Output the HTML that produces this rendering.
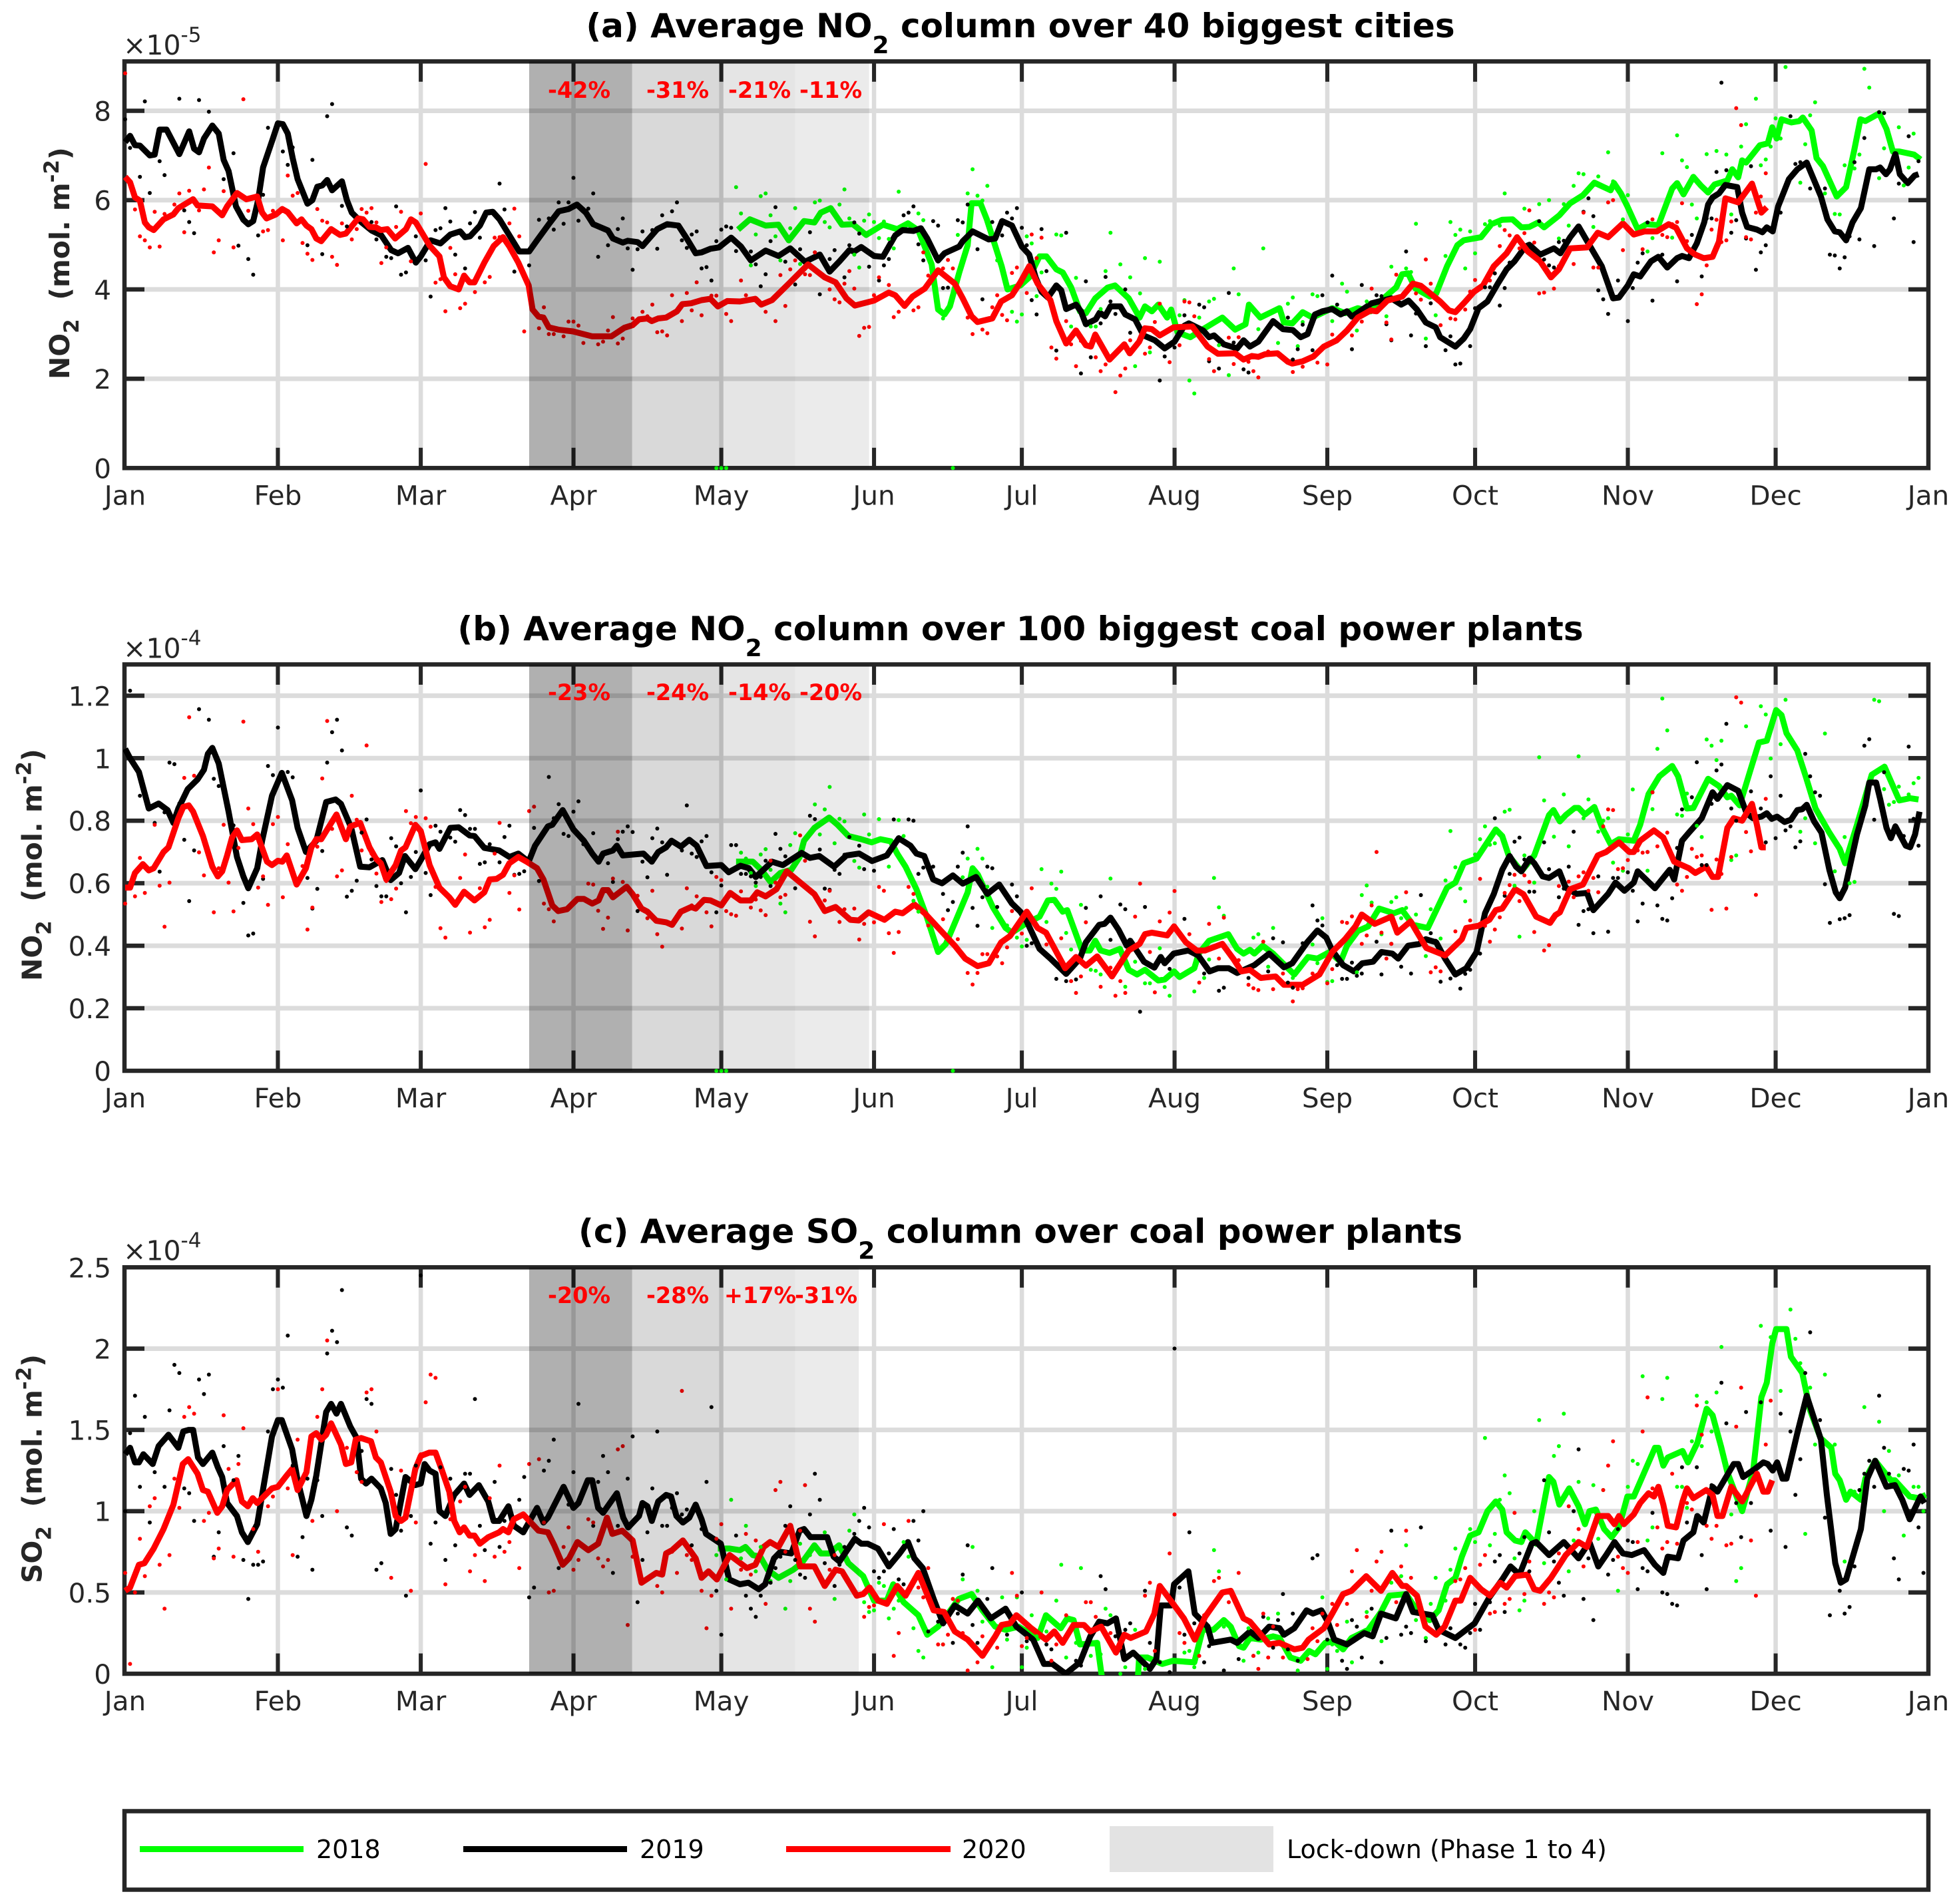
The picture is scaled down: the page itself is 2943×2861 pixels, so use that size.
<!DOCTYPE html>
<html lang="en">
<head>
<meta charset="utf-8">
<title>Average NO2 and SO2 columns</title>
<style>
html,body{margin:0;padding:0;background:#fff;}
svg{display:block;}
text{font-family:"DejaVu Sans","Liberation Sans",sans-serif;white-space:pre;}
.title{font-size:50px;font-weight:bold;fill:#000;text-anchor:middle;}
.ylab{font-size:41px;font-weight:bold;fill:#262626;}
.exp{font-size:41px;fill:#262626;}
.pct{font-size:33.5px;font-weight:bold;fill:#f00;text-anchor:middle;}
.leg{font-size:38px;fill:#000;}
</style>
</head>
<body>
<svg xmlns="http://www.w3.org/2000/svg" width="2943" height="2861" viewBox="0 0 2943 2861">
<defs>
<clipPath id="clip-a"><rect x="185" y="89" width="2715" height="616"/></clipPath>
<clipPath id="clip-b"><rect x="185" y="995" width="2715" height="616"/></clipPath>
<clipPath id="clip-c"><rect x="185" y="1901" width="2715" height="616"/></clipPath>
</defs>
<rect x="0" y="0" width="2943" height="2861" fill="#fff"/>

<g id="panel-a">
<g id="a-base"></g>
<g id="a-data" clip-path="url(#clip-a)"></g>
<g id="a-dots"></g>
<g id="a-shade"></g>
<text class="title" x="1533" y="56">(a) Average NO<tspan dy="24" font-size="36">2</tspan><tspan dy="-24"> column over 40 biggest cities</tspan></text>
<text class="ylab" transform="translate(104,570) rotate(-90)">NO<tspan dy="14" font-size="31">2</tspan><tspan dy="-14">  (mol. m</tspan><tspan dy="-16" font-size="31">-2</tspan><tspan dy="16">)</tspan></text>
<text class="exp" x="185" y="82">×10<tspan dy="-19" font-size="31">-5</tspan></text>
<text class="pct" x="870" y="147">-42%</text>
<text class="pct" x="1018" y="147">-31%</text>
<text class="pct" x="1141" y="147">-21%</text>
<text class="pct" x="1248" y="147">-11%</text>
</g>

<g id="panel-b">
<g id="b-base"></g>
<g id="b-data" clip-path="url(#clip-b)"></g>
<g id="b-dots"></g>
<g id="b-shade"></g>
<text class="title" x="1533" y="962">(b) Average NO<tspan dy="24" font-size="36">2</tspan><tspan dy="-24"> column over 100 biggest coal power plants</tspan></text>
<text class="ylab" transform="translate(62.5,1474) rotate(-90)">NO<tspan dy="14" font-size="31">2</tspan><tspan dy="-14">  (mol. m</tspan><tspan dy="-16" font-size="31">-2</tspan><tspan dy="16">)</tspan></text>
<text class="exp" x="185" y="988.7">×10<tspan dy="-19" font-size="31">-4</tspan></text>
<text class="pct" x="870" y="1052">-23%</text>
<text class="pct" x="1018" y="1052">-24%</text>
<text class="pct" x="1141" y="1052">-14%</text>
<text class="pct" x="1248" y="1052">-20%</text>
</g>

<g id="panel-c">
<g id="c-base"></g>
<g id="c-data" clip-path="url(#clip-c)"></g>
<g id="c-dots"></g>
<g id="c-shade"></g>
<text class="title" x="1533" y="1867.5">(c) Average SO<tspan dy="24" font-size="36">2</tspan><tspan dy="-24"> column over coal power plants</tspan></text>
<text class="ylab" transform="translate(62.5,2379) rotate(-90)">SO<tspan dy="14" font-size="31">2</tspan><tspan dy="-14">  (mol. m</tspan><tspan dy="-16" font-size="31">-2</tspan><tspan dy="16">)</tspan></text>
<text class="exp" x="185" y="1893.7">×10<tspan dy="-19" font-size="31">-4</tspan></text>
<text class="pct" x="870" y="1958">-20%</text>
<text class="pct" x="1018" y="1958">-28%</text>
<text class="pct" x="1142" y="1958">+17%</text>
<text class="pct" x="1241" y="1958">-31%</text>
</g>

<g id="legend">
<rect x="187" y="2721.5" width="2710" height="118" fill="#fff" stroke="#262626" stroke-width="6.5"/>
<rect x="210" y="2774" width="246" height="9" fill="#0f0"/>
<text class="leg" x="475" y="2792">2018</text>
<rect x="696" y="2774" width="246" height="9" fill="#000"/>
<text class="leg" x="961" y="2792">2019</text>
<rect x="1181" y="2774" width="247" height="9" fill="#f00"/>
<text class="leg" x="1445" y="2792">2020</text>
<rect x="1667" y="2744" width="246" height="69" fill="#e3e3e3"/>
<text class="leg" x="1933" y="2792">Lock-down (Phase 1 to 4)</text>
</g>
</svg>

<script>
// Axis categories and tick labels
const monthLabels = ['Jan','Feb','Mar','Apr','May','Jun','Jul','Aug','Sep','Oct','Nov','Dec','Jan'];
const monthStartDays = [0,31,60,91,121,152,182,213,244,274,305,335,366];
const aTickValues = [0,2,4,6,8];
const aTickLabels = ['0','2','4','6','8'];
const bTickValues = [0,0.2,0.4,0.6,0.8,1,1.2];
const bTickLabels = ['0','0.2','0.4','0.6','0.8','1','1.2'];
const cTickValues = [0,0.5,1,1.5,2,2.5];
const cTickLabels = ['0','0.5','1','1.5','2','2.5'];
const abPhaseDays = [82,102.9,121.4,136,151];
const cPhaseDays = [82,102.9,121.4,136,148.9];

// Series are flat lists: day-of-year, value, day-of-year, value, ...
// Panel a values are x 1e-5 mol/m2
const aLine2019 = [0,7.3,1,7.44,2,7.23,3,7.22,5,7.0,6,7.02,7,7.58,8.4,7.58,11,7.03,13,7.54,14,7.15,15,7.07,16,7.38,17.7,7.67,19,7.49,20,6.9,21,6.65,22.5,5.86,24,5.56,25,5.46,26,5.53,27,6.0,28,6.73,30,7.38,31,7.72,32,7.7,33,7.49,34,6.94,35,6.47,37,5.92,38,6.0,39,6.3,40,6.33,41,6.45,42,6.22,44,6.42,45,6.0,46,5.72,48,5.5,50,5.32,52,5.21,54,4.88,55.4,4.81,57.4,4.93,59,4.6,60,4.74,62,5.1,64,5.03,66,5.23,68,5.3,69,5.17,70,5.19,72,5.43,73.3,5.72,74.6,5.74,76,5.57,78,5.21,80,4.85,82,4.85,83.6,5.1,86,5.46,88,5.75,90,5.8,91.7,5.9,93.5,5.72,95,5.46,98,5.32,99,5.14,101,5.05,102,5.09,104,5.06,105,4.97,108,5.35,110,5.46,112.3,5.43,114,5.14,115.8,4.81,117,4.83,118.8,4.91,120.5,4.94,123,5.16,125,4.96,127,4.65,130,4.87,132.6,4.75,135,4.92,138,4.62,141,4.78,143,4.4,145,4.63,147,4.88,148,4.85,149.4,4.95,152,4.75,153.8,4.73,156.3,5.21,157.8,5.33,160,5.31,161.5,5.37,162.8,5.14,165,4.65,166.3,4.81,169.3,4.96,170,5.08,172,5.3,175.3,5.12,176.6,5.14,178,5.53,180,5.43,182,4.96,183.5,4.78,184.8,4.27,186,3.95,187.3,3.82,189,4.09,190,3.98,191,3.56,193,3.66,194,3.51,195,3.22,197,3.33,197.8,3.48,198.9,3.4,200,3.62,202,3.62,203,3.44,205,3.33,206.7,2.97,209,2.86,211,2.68,213,2.83,215,3.19,215.9,3.24,218.8,3.08,220,2.93,221,2.97,223,2.77,225.7,2.68,227,2.86,228.3,2.72,230,2.83,233,3.29,235,3.11,237,3.09,238.6,2.93,240,3.0,241.5,3.44,243,3.51,245,3.56,246.7,3.44,248,3.51,249,3.39,253,3.69,257,3.8,259,3.66,260.5,3.75,262.2,3.55,264,3.26,266,3.15,266.9,2.93,270,2.72,271.7,2.9,273,3.11,274.7,3.58,276.5,3.73,278.6,4.13,280.4,4.45,282,4.63,284.2,4.96,285,5.0,287.2,4.78,290,4.92,291.3,4.81,293.3,5.17,295,5.41,297,5.03,299.7,4.52,302,3.8,303.2,3.82,305,4.09,306.2,4.34,307.5,4.29,309.7,4.63,311.2,4.73,313,4.49,315,4.7,316,4.75,317.4,4.7,319,5.03,320.5,5.5,321.3,5.9,322.2,6.06,323.5,6.15,324.8,6.34,327.2,6.29,328.2,5.72,329.2,5.4,331.2,5.34,332.3,5.28,333.2,5.39,334.4,5.3,335.5,5.86,337.7,6.47,339.4,6.69,341.3,6.84,344.2,6.08,345.5,5.57,347,5.3,348,5.28,349.3,5.1,350.6,5.5,352.3,5.82,354,6.69,355.4,6.69,356.2,6.73,357.4,6.58,358.2,6.69,359.3,7.03,360.2,6.58,361.8,6.38,363.2,6.55,364,6.58];
const aLine2020 = [0,6.52,1,6.4,2,6.06,3,5.99,4,5.5,4.8,5.39,5.8,5.33,7.8,5.57,9.8,5.68,10.8,5.82,13.8,6.02,14.7,5.88,17.7,5.86,19.7,5.66,20.7,5.86,22.7,6.16,24.6,6.02,26.8,6.08,27.8,5.72,28.7,5.59,30.6,5.68,31.9,5.8,33,5.73,34.8,5.48,35.8,5.57,36.8,5.43,37.8,5.35,38.8,5.14,39.8,5.08,41.8,5.35,43.6,5.22,44.8,5.25,46.1,5.43,47.3,5.59,48.3,5.57,49.6,5.4,50.9,5.39,51.9,5.33,53.2,5.35,54.8,5.14,57,5.35,58,5.57,59,5.5,60.8,5.17,61.8,4.98,63.8,4.74,64.7,4.27,66,4.07,67.7,4.0,68.8,4.31,69.9,4.16,70.9,4.16,72.9,4.6,74.8,4.97,76.7,5.17,78,4.96,79.8,4.6,81.9,4.09,82.7,3.55,83.9,3.39,84.9,3.37,86,3.15,87.9,3.1,90.9,3.06,94.8,2.95,98.7,2.95,101.3,3.14,103,3.2,104.3,3.33,106,3.35,106.9,3.29,108.2,3.35,109.8,3.37,112,3.51,113.1,3.67,114.9,3.69,117,3.76,118.8,3.79,120.3,3.62,122.2,3.74,124.8,3.73,127.9,3.79,129.1,3.66,131.3,3.76,134.7,4.13,138.6,4.56,142,4.27,144.2,4.16,146.4,3.8,148.1,3.64,152,3.75,155,3.93,156.3,3.87,158.2,3.63,159.8,3.84,162.3,4.02,165,4.43,168.4,4.13,170,3.8,171.8,3.4,173,3.27,176,3.35,177.8,3.73,180,3.87,181.7,4.16,183.5,4.52,185.2,4.13,187.8,3.76,189,3.29,191,2.79,193,3.08,195,2.75,196,2.72,196.9,2.99,199.8,2.43,202.8,2.77,203.9,2.57,205.8,2.83,207,3.13,208.4,3.11,210,2.97,212.8,3.15,216.6,3.17,219.7,2.72,221.8,2.56,225.3,2.57,227,2.43,228.7,2.51,230,2.49,231.4,2.55,233.9,2.57,236,2.38,236.9,2.34,239,2.39,241.2,2.5,243.3,2.72,245.9,2.86,248,3.08,250.2,3.37,252.8,3.53,254,3.51,256.2,3.75,259.2,3.84,261.4,4.13,263,4.08,266.9,3.73,268.7,3.53,270,3.49,271.7,3.69,273.8,3.95,275.6,4.09,277.8,4.52,280.4,4.81,282.5,5.17,284.7,4.85,287.2,4.63,289.4,4.27,291,4.45,293.3,4.92,296.7,4.94,298.9,5.27,301,5.17,304,5.48,306.2,5.23,308.4,5.3,310.9,5.3,313.3,5.46,314.8,5.38,317,4.92,318.7,4.78,320.4,4.7,322.2,4.73,323.5,5.07,324.8,6.04,327.4,5.95,330.2,6.37,332.1,5.72,333.2,5.84];
const aLine2018 = [124.4,5.34,126.8,5.57,130,5.43,132.6,5.45,134.7,5.1,137.8,5.53,139.9,5.5,141.2,5.72,143.2,5.82,145.5,5.45,147.7,5.46,150.4,5.22,153.8,5.45,156.7,5.35,158.9,5.48,161,5.32,163.7,4.56,165,3.55,166.3,3.44,167.4,3.62,169.3,4.38,171,4.99,171.8,5.93,173.6,5.93,174.9,5.57,177.9,4.52,179.1,4.0,181.7,4.09,183.5,4.27,185.6,4.74,187,4.74,189,4.45,190.3,4.38,192,4.05,193.8,3.51,195,3.47,196.9,3.8,199.4,4.04,200.9,4.09,203.7,3.8,205.9,3.37,207,3.62,208.4,3.51,209.7,3.66,211.5,3.37,212.3,3.55,213.6,3.04,216.2,2.93,218.8,3.11,222.7,3.37,225.3,3.1,227.4,3.22,228.1,3.66,230.4,3.37,234.3,3.58,235.2,3.26,236.9,3.24,239,3.49,241,3.37,245,3.58,247.6,3.47,250.2,3.58,252.8,3.51,255,3.76,258,4.05,259.2,4.34,260.4,4.36,261.9,4.02,264.8,3.84,266.1,3.91,268.3,4.52,270.4,4.99,271.7,5.1,275.2,5.17,277.3,5.46,279.5,5.56,281.6,5.57,283.4,5.39,285,5.4,286.8,5.5,288,5.39,291.1,5.66,293.3,5.93,295.9,6.11,298.2,6.39,301.5,6.22,302.2,6.38,303.6,6.15,304.9,5.86,307,5.35,308.8,5.46,311.2,5.44,314,6.26,315,6.38,316.3,6.13,318.3,6.52,319.8,6.33,321.3,6.17,322.6,6.35,325.2,6.44,326.2,6.69,327.4,6.51,328.2,6.89,329,6.84,331.8,7.23,333.4,7.27,334.3,7.63,335.2,7.38,336.2,7.81,338.2,7.74,339.8,7.77,340.5,7.85,342.3,7.56,343.3,6.94,344.6,6.76,347.4,6.08,349.3,6.29,350.9,7.09,352.2,7.81,353.2,7.77,356,7.94,357.5,7.59,358.8,7.09,360.1,7.09,363.1,7.02,364.4,6.91];

// Panel b values are x 1e-4 mol/m2
const bLine2019 = [0,1.03,1,1.0,2.8,.956,4.8,.839,6.8,.855,8.6,.834,9.8,.793,10.8,.839,12.7,.901,14.7,.932,16,.963,16.8,1.014,17.7,1.033,19,.983,21,.829,22.7,.684,24,.622,25,.584,26.8,.648,27.8,.736,29.8,.88,31.8,.953,33.9,.865,35,.777,36.7,.7,38.8,.736,40.8,.86,42.7,.868,43.8,.854,45.9,.777,47.7,.653,49.6,.651,52.2,.674,53.9,.61,55.6,.633,56.8,.687,58.9,.645,60,.674,61.8,.725,63,.731,63.8,.71,66,.777,67.7,.779,69.9,.753,70.9,.751,72.9,.713,75.9,.705,78,.684,79.8,.695,81.9,.669,83.2,.72,85.8,.782,86.7,.787,88.8,.834,91,.772,93.1,.736,94.8,.695,96.1,.669,97,.695,99,.705,99.8,.72,101,.689,105.2,.695,106.9,.669,108.2,.7,109.8,.715,110.9,.736,112.8,.717,114.5,.739,116,.72,118,.655,121,.658,122.5,.635,124.9,.656,126.6,.648,128,.62,131.3,.669,133.5,.658,137.3,.697,139,.681,140.9,.687,143.9,.653,146.4,.689,149,.695,151.6,.671,154.6,.689,157,.744,159.4,.72,160.6,.695,162.2,.687,164,.612,165.8,.6,168,.625,170,.599,172.7,.62,175,.566,177.4,.596,180,.535,181.7,.509,183,.478,185.6,.39,187.8,.359,191,.31,193.8,.359,195,.411,197.7,.467,198.8,.47,200,.49,201.6,.452,203.3,.4,204,.416,206.8,.349,208.9,.33,210.2,.364,211,.344,212.8,.375,215.8,.385,217.8,.369,220.1,.318,221.8,.328,224,.328,225.7,.313,229.2,.338,232.2,.375,235.2,.331,236.9,.344,239.9,.411,242,.449,243.8,.426,245,.385,247.2,.338,249.4,.318,251.1,.344,253.3,.349,255,.38,257.2,.375,258.4,.359,260.4,.4,262.7,.406,264,.421,266.1,.411,267.9,.359,270,.308,272.2,.328,274.3,.38,276,.504,277.8,.566,279.5,.643,281,.687,282.3,.653,283.4,.638,285.1,.679,286,.664,287.7,.622,289,.617,291.1,.638,292.4,.586,294.6,.566,296.7,.569,298,.514,301,.566,302.5,.602,304.3,.576,306.2,.602,307,.638,310.5,.584,313.5,.643,314.4,.612,316,.736,317.4,.762,320,.808,322.2,.891,323.2,.87,325.2,.914,327.4,.896,329.1,.824,330.4,.808,332.1,.813,333.2,.824,334.2,.806,335.3,.813,336.8,.796,338.1,.803,339.4,.834,340.4,.837,341.3,.851,342.8,.798,344.3,.762,345.9,.643,347.2,.571,348,.552,349.1,.586,351.5,.756,353.2,.849,354,.922,355.4,.922,356.2,.87,357.5,.777,358.4,.744,359.3,.782,361.4,.72,362.3,.715,363.3,.756,364.2,.829];
const bLine2020 = [0,.586,1,.586,2,.633,3.6,.661,4.8,.641,5.8,.648,7.8,.7,8.8,.715,10.8,.808,11.8,.844,12.9,.849,13.8,.829,15.8,.751,17.7,.653,18.8,.622,19.7,.638,20.7,.689,21.7,.746,22.7,.769,23.7,.738,25.7,.741,26.8,.756,28.8,.669,29.8,.658,31,.672,31.9,.669,32.8,.689,34.8,.596,36.7,.648,37.8,.715,38.8,.741,39.8,.741,42.9,.82,44.8,.741,45.7,.782,47.7,.793,49.6,.715,50.9,.679,51.9,.664,53,.612,54.9,.658,56,.705,56.9,.715,58.9,.787,60,.767,61.8,.658,63.8,.586,65.8,.555,67,.531,68.8,.573,70.9,.545,72.9,.571,74,.612,75.4,.614,76.7,.627,78,.664,79.8,.684,81.5,.669,83.6,.648,84.9,.612,86.7,.529,87.9,.511,89.7,.517,91.8,.55,93.1,.55,94.8,.535,96.1,.545,97,.578,98,.578,99,.555,101.8,.589,103,.565,104.8,.519,106,.509,107.8,.48,109.8,.475,111,.467,112.8,.509,114.9,.524,115.8,.519,117.5,.547,118.8,.545,121,.529,122.8,.569,124.9,.545,127,.545,128.3,.571,130,.558,132.2,.581,134.3,.638,137.3,.599,139.9,.565,142,.511,144.2,.524,147.2,.483,148.9,.481,150.9,.507,154.1,.483,156.3,.509,157.8,.504,160.2,.532,162.3,.504,168.4,.4,170.5,.359,173,.335,175.3,.344,177.8,.411,179.6,.431,183,.509,185.2,.457,186.9,.442,190.8,.328,193,.364,195,.336,197.3,.366,200.3,.302,203.7,.385,205.9,.406,207,.437,208.4,.442,211.5,.433,212.9,.462,215.3,.411,217.5,.385,219.2,.385,222.7,.406,224.9,.359,226.6,.318,228.3,.323,230.5,.297,233.5,.302,235.2,.275,239,.275,242.4,.308,245,.38,247.6,.421,249.7,.462,251,.5,253.6,.47,257,.493,258.2,.442,260.9,.478,264.1,.393,267.9,.369,271.3,.421,272.2,.457,274.7,.464,276.9,.483,278.2,.514,279.5,.519,282.1,.581,283.8,.565,286.4,.493,289.2,.473,290.3,.498,291.2,.507,293.3,.581,295.9,.596,298.9,.689,300.6,.7,303.2,.731,305.3,.7,306.2,.7,307.5,.736,310.3,.769,312.2,.746,314.4,.669,317.4,.648,318.7,.633,320.9,.653,322.2,.62,323.3,.62,325.2,.777,326.5,.808,328.2,.8,330.2,.854,331.2,.787,332.1,.715,333,.715];
const bLine2018 = [124,.669,127.4,.669,129.1,.643,131,.604,133,.633,135.2,.643,136.9,.684,137.8,.736,139.9,.777,142.9,.81,144.6,.787,146.8,.751,149.4,.741,151.5,.731,153.3,.741,155.4,.734,156.7,.695,158.4,.653,160.6,.581,162.7,.493,165,.38,166.6,.406,168.8,.488,171,.571,172,.648,173.1,.627,176.1,.524,178.7,.457,180,.442,183,.473,185.6,.493,187.3,.545,188.6,.547,190.3,.509,191.2,.514,194.2,.385,195.8,.385,196.9,.416,198,.385,199.8,.377,201.9,.39,203.7,.323,205.4,.308,207,.323,209.7,.289,211,.292,212.9,.318,214,.3,217,.328,217.9,.375,220,.416,223.9,.437,225.7,.39,227,.375,228.3,.387,229.2,.375,230.9,.4,233,.375,237.3,.308,240.1,.364,242,.359,244.5,.38,246.7,.349,248,.4,250.2,.447,252.3,.462,254.5,.519,257.5,.504,259.2,.514,261.4,.467,264.4,.457,268.3,.586,270,.602,271.7,.664,274.3,.679,278.2,.772,279.5,.751,280.8,.689,283.4,.638,286,.689,289,.818,289.9,.834,291.2,.798,292.4,.818,294.2,.841,295,.841,296.3,.82,298.2,.844,299.8,.777,301.5,.725,303.2,.741,306.2,.736,307.5,.787,309.2,.885,311.4,.942,314,.975,315.2,.942,317,.839,318.3,.841,321.3,.934,323.5,.911,325.2,.875,326,.88,327.7,.849,329.9,.963,331.6,1.05,333.2,1.056,335.1,1.154,336.2,1.138,337.2,1.08,339.4,1.025,341.1,.942,343.1,.839,345.9,.762,348,.71,349.1,.664,351.5,.787,354.5,.947,357.1,.973,360.1,.865,362.3,.872,364,.868];

// Panel c values are x 1e-4 mol/m2
const cLine2019 = [0,1.35,1,1.39,2,1.3,2.8,1.3,3.7,1.35,5.6,1.29,6.8,1.4,8.8,1.47,10.8,1.39,11.8,1.49,12.9,1.5,13.8,1.5,14.8,1.33,15.8,1.29,17.7,1.36,18.8,1.27,19.7,1.21,20.7,1.05,22.7,.97,23.7,.87,24.9,.81,26.8,.92,27.8,1.1,29.8,1.46,31,1.56,31.8,1.56,33.9,1.38,35,1.19,36.8,.97,37.8,1.07,38.8,1.22,40.8,1.61,41.8,1.66,42.9,1.6,43.8,1.66,45.7,1.52,47,1.45,47.9,1.2,48.9,1.17,50,1.2,51.9,1.14,52.9,1.05,53.9,.86,54.9,.89,56.9,1.21,58.9,1.16,60,1.17,60.8,1.29,61.8,1.25,63,1.23,63.8,1.0,65,.97,66.8,1.1,68.8,1.17,69.9,1.1,71.8,1.16,73.7,1.06,74.8,.94,75.9,.94,77.8,1.03,78.9,.91,80.8,.87,83.6,1.02,84.9,.93,85.8,.96,89,1.15,91,1.02,92,1.05,93.9,1.19,94.8,1.19,96,1.02,97,.99,99.8,1.11,101.1,.96,102.1,.9,104.3,.97,105,1.05,106,1.03,106.9,.94,108.2,1.06,109.8,1.1,110.8,1.09,111.9,.97,113.2,.93,114.5,.96,115.8,1.04,117,.95,117.9,.86,120.9,.8,122.6,.58,124.8,.55,126.5,.56,128.6,.52,129.9,.55,131.7,.71,133,.75,135.2,.74,136.9,.88,137.8,.89,139.1,.84,142.5,.84,143.8,.72,145,.69,148.1,.83,149.4,.8,150.7,.8,152.8,.77,155,.66,157.2,.74,158.9,.81,160.2,.71,161.9,.65,164.1,.46,166,.31,168.4,.42,171,.37,173.1,.45,175.7,.34,178.7,.4,180.9,.29,184.3,.21,186.5,.06,188.2,.06,190.9,0,193.8,.07,195.9,.23,197.7,.32,199.4,.31,201.1,.34,202.8,.09,204.6,.13,208,.03,209.3,.09,210.2,.42,212.3,.42,212.9,.55,215.8,.63,217.1,.37,219.7,.29,220.6,.19,224.4,.21,225.7,.19,228.3,.26,230,.22,232.2,.29,234.3,.28,235.2,.24,237.3,.28,239.8,.39,241.1,.37,242.8,.39,244.1,.32,245.4,.21,248,.18,251.5,.25,253.2,.23,254.9,.37,257.9,.34,260,.49,261.4,.38,265.3,.36,266.6,.27,270,.22,273.9,.31,276.9,.47,279.5,.58,281.2,.66,283,.61,285.5,.8,286.4,.81,289,.73,292,.81,295,.71,297.2,.81,299,.66,300.6,.73,302.3,.81,304,.74,305.8,.73,308.3,.76,310.5,.67,312.2,.62,313.1,.72,315.2,.71,316.3,.82,318.3,.87,319.1,.97,320.4,.93,322.2,1.15,323.2,1.12,326.5,1.29,327.4,1.29,328.4,1.21,330.8,1.26,332.5,1.3,333.4,1.29,334.4,1.25,335.3,1.3,336.4,1.2,337.2,1.2,339.4,1.48,341.3,1.71,344.2,1.44,345.4,1.1,347.1,.68,348.2,.56,349.3,.58,352.3,.89,353.6,1.2,355.2,1.31,357.5,1.15,359.2,1.16,360.7,1.07,362.2,.95,364.4,1.09,365.2,1.05];
const cLine2020 = [0,.51,1,.53,2.8,.67,3.9,.68,5.8,.77,7.8,.89,9.8,1.04,11.7,1.29,12.8,1.32,14.7,1.23,15.8,1.13,16.8,1.12,18.7,.99,19.7,1.03,20.7,1.13,22.6,1.19,23.7,1.06,24.9,1.03,25.9,1.08,26.8,1.05,29.8,1.14,31,1.15,32.8,1.22,33.9,1.26,35,1.13,36.8,1.24,37.8,1.46,38.8,1.48,39.8,1.44,40.8,1.47,41.8,1.54,43.8,1.41,44.8,1.29,45.9,1.3,46.8,1.44,47.9,1.45,49.9,1.43,50.9,1.33,51.9,1.3,53.9,1.12,54.9,.97,56,.94,56.9,.96,58.9,1.26,60,1.34,61.7,1.36,63,1.36,64.2,1.26,65.8,1.12,66.8,.94,67.9,.87,68.8,.9,69.9,.85,70.9,.85,72,.8,73.7,.84,75.9,.87,76.7,.89,77.8,.87,78.9,.95,80.8,.98,83.9,.88,85.8,.87,87.1,.79,88.8,.67,90.1,.71,91.8,.81,94,.76,96,.8,97.8,.96,98.9,.86,100.9,.88,103,.82,104.8,.56,107.8,.62,109,.61,109.8,.74,111,.76,113.2,.82,115.8,.71,117,.59,118.4,.63,120.1,.58,122.7,.73,126.2,.65,127.9,.67,129.6,.78,130.9,.81,132.6,.78,135,.91,137,.66,139.9,.66,142,.54,144.2,.64,145.5,.63,148.5,.48,149.8,.49,151.1,.53,152.8,.45,154.6,.43,156.7,.54,158.4,.48,161,.62,164.1,.39,166.2,.38,168.4,.26,171,.21,174,.11,176.6,.23,177.9,.3,179.6,.31,180.9,.36,183.9,.28,186.9,.21,188.6,.26,190.3,.19,192.5,.3,194.6,.3,195.9,.26,198.1,.29,201.1,.13,202.8,.24,204.1,.22,207.2,.26,208.9,.37,210,.54,213.2,.41,214.9,.34,217.1,.21,219.2,.35,222.7,.5,224.4,.51,227,.34,228.3,.32,232.2,.18,234.3,.19,237.3,.15,239,.16,240.2,.21,243.3,.28,245,.37,247.2,.49,248.9,.51,251.9,.6,254.9,.51,257.2,.62,259.2,.54,260,.54,262.2,.48,263.9,.29,266.1,.24,267.8,.29,270,.45,271.1,.45,273,.59,275.2,.52,277,.48,279.1,.56,280.4,.53,282.1,.6,284.6,.61,286,.52,287.2,.51,289.4,.59,290.7,.65,292.4,.73,295,.81,296.7,.78,298.9,.97,301,.97,302.3,.92,303.2,.97,304.2,.92,306.2,.98,307.5,1.05,309.2,1.11,310.3,1.09,311.2,1.15,312.2,1.04,313.1,.91,314.8,.9,316.1,1.06,317,1.14,318.3,1.08,320.9,1.13,322.2,1.1,323.2,.97,324.2,.97,326,1.15,328.2,1.06,331.2,1.23,332.5,1.12,333.4,1.12,334.3,1.19];
const cLine2018 = [120.3,.77,122.7,.77,124.8,.76,125.9,.78,127.4,.73,128.9,.72,130.4,.64,132.6,.59,135.6,.64,137.3,.68,139.9,.79,141.2,.74,142.9,.74,144.9,.79,146.8,.68,149.8,.6,152,.45,154.6,.45,155.9,.55,158,.44,161,.36,162.8,.24,165,.29,167.5,.39,169.2,.46,171.8,.49,174,.39,176.6,.29,178.7,.27,181.3,.29,185.2,.22,186.9,.36,189.9,.28,191.2,.34,192.5,.33,193.8,.18,197.3,.19,198.6,-.1,205.4,-.1,205.8,.1,207.5,.1,210.5,.06,212.7,.08,217,.07,218.7,.27,220.9,.27,223,.33,224.4,.29,226.1,.17,227,.16,228.3,.22,230.5,.21,233,.23,234.3,.22,236.5,.1,238.6,.08,240.3,.14,241.6,.12,243.6,.19,245.4,.2,247.2,.15,248.9,.22,252.3,.27,254.9,.38,256.6,.48,260,.49,262.2,.39,264.8,.33,266.6,.39,268.3,.55,270,.59,271.3,.72,273,.85,274.7,.87,276.5,1.0,278.2,1.06,279.5,1.01,280.4,.87,282.1,.82,283.4,.81,284.2,.87,286.4,.8,289,1.21,289.9,1.18,291.1,1.04,293.1,1.14,295,1.03,296.3,.92,297.2,1.0,298.5,1.01,300.2,.89,301.7,.84,303.2,.9,304.9,1.09,306.2,1.09,307.5,1.18,310.5,1.39,311.2,1.39,312.2,1.28,313.1,1.33,316.1,1.37,317.2,1.3,319.1,1.42,321,1.63,322.2,1.59,323.9,1.4,325.2,1.24,328.2,1.0,330.4,1.24,332.1,1.7,333.2,1.79,334.3,2.03,335.1,2.12,337.2,2.12,338.1,1.95,340.4,1.85,342,1.62,344.1,1.45,346.3,1.39,347.1,1.23,348,1.19,349.3,1.07,350.2,1.12,352.3,1.07,353.2,1.2,355.2,1.31,358.4,1.19,359.2,1.19,362.2,1.09,364,1.08,365.5,1.1];

// Daily points: day-of-year, value
const aDots2019 = [0,7.81,1,7.17,4,8.21,3,6.52,5,6.16,7,6.87,8,6.56,11,8.27,12,5.77,13,5.51,14,5.26,15,8.24,17,7.98,20,6.47,22,7.05,23,4.98,25,4.68,26,4.33,28,6.12,27,5.21,29,7.62,32,7.09,33,6.79,34,7.18,37,4.99,38,6.9,40,4.79,41,7.88,42,8.15,44,5.87,45,5.41,50,5.51,51,5.12,53,4.73,54,4.7,55,5.86,56,4.33,57,4.38,59,5.19,61,4.65,62,3.84,63,5.33,64,5.37,65,5.82,66,5.52,67,4.78,69,4.47,70,5.48,71,5.73,72,5.16,76,6.37,77,5.79,79,4.4,82,4.54,84,5.56,86,5.59,87,5.34,88,5.95,89,5.47,90,5.95,91,6.5,92,5.54,94,5.81,95,6.15,96,4.73,98,4.99,100,5.35,101,5.59,102,4.92,103,4.44,104,4.9,105,5.3,107,5.33,108,4.91,109,5.66,112,5.95,111,5.75,113,5.1,114,4.93,115,5.23,116,5.3,117,4.47,118,4.5,119,4.2,120,5.08,121,5.34,122,5.41,123,5.38,124,4.86,127,4.85,128,4.56,129,4.07,130,4.34,131,5.08,132,5.84,134,4.62,136,4.11,137,4.9,139,5.28,140,4.83,141,3.89,143,4.68,144,4.88,146,4.27,147,4.99,148,5.5,149,5.25,151,4.51,153,4.2,154,4.54,155,4.68,158,5.66,159,5.72,160,5.86,161,5.01,162,4.65,164,5.53,165,5.43,166,4.03,167,4.04,169,5.55,170,5.5,171,5.9,173,4.9,174,3.78,176,5.51,178,5.21,179,5.72,180,5.59,181,5.82,182,5.38,183,4.99,184,3.76,185,3.44,186,5.35,187,4.41,189,2.63,191,5.27,194,2.12,195,4.18,196,2.48,198,3.24,199,4.28,200,3.73,201,3.45,203,4.0,204,3.03,210,1.96,211,2.5,213,2.7,215,3.42,218,3.66,219,3.6,220,2.39,222,2.23,224,3.92,225,2.81,227,2.21,228,2.14,236,3.37,237,2.43,238,2.66,239,3.21,241,2.64,243,3.87,245,4.31,246,3.66,249,2.66,251,4.1,254,3.87,255,3.85,256,3.22,257,2.86,260,4.85,261,2.97,262,3.46,264,2.73,265,3.69,268,2.64,269,2.95,270,2.32,271,2.34,273,2.73,274,3.58,276,4.05,277,4.05,278,4.36,279,3.64,280,4.03,281,4.6,283,4.8,287,5.53,288,4.67,289,4.54,290,4.49,291,5.06,292,5.09,296,5.74,297,6.04,298,5.64,299,3.98,300,3.78,301,3.45,303,4.2,305,3.29,306,4.03,307,4.6,308,4.81,309,5.5,310,3.75,312,4.78,315,4.18,318,5.22,320,4.29,321,5.59,322,5.59,323,6.63,324,8.63,325,6.67,326,5.27,327,5.55,329,5.14,330,6.76,331,4.44,332,4.83,333,4.99,336,5.72,338,7.88,339,6.81,340,6.85,342,6.26,345,6.26,346,4.78,347,4.76,348,4.47,349,4.72,350,5.19,351,6.85,352,5.12,353,7.39,355,4.97,356,7.97,357,7.95,359,5.59,360,6.37,362,7.43,363,5.06,364,6.87];
const aDots2020 = [0,8.84,1,6.4,2,5.79,3,5.19,4,5.1,5,4.94,6,5.74,7,4.96,8,5.69,10,5.9,11,6.15,12,5.28,13,6.21,15,5.77,16,6.24,17,6.73,18,4.83,19,5.1,20,6.2,22,4.94,24,8.26,25,5.76,28,5.3,29,5.33,30,5.76,32,5.1,33,6.55,34,6.1,35,6.16,36,5.04,37,4.8,38,4.66,39,5.8,40,5.54,41,5.5,42,4.73,43,4.55,44,5.48,46,5.12,47,5.35,48,5.8,49,5.72,50,5.82,51,5.5,52,4.59,53,4.94,55,5.4,56,5.74,58,4.63,60,5.7,61,6.81,63,4.15,64,4.23,65,3.51,66,4.93,67,4.34,68,3.58,69,3.68,71,3.94,73,4.16,74,4.28,75,5.16,76,5.17,78,5.48,79,5.81,80,5.19,81,3.06,83,3.49,84,3.13,85,3.6,86,3.0,87,3.0,89,2.95,90,3.28,91,3.28,92,3.19,93,2.8,96,2.77,97,2.83,98,3.08,99,3.38,100,2.79,101,2.9,103,3.35,105,3.5,106,3.4,107,3.66,108,3.04,109,3.06,110,2.97,111,3.87,113,3.29,114,3.92,115,3.53,116,4.16,117,3.42,119,3.86,120,3.86,122,3.45,123,3.29,125,4.2,126,3.87,130,3.5,132,3.29,133,4.32,134,3.63,135,4.45,136,4.65,138,4.34,139,4.32,140,4.83,143,4.0,144,3.78,145,3.71,146,4.13,147,4.41,148,4.02,149,2.96,150,3.14,151,3.16,152,3.87,153,4.27,155,4.1,156,3.38,157,3.5,160,3.53,161,3.6,162,4.83,163,4.31,166,4.47,167,4.66,168,4.47,171,3.37,172,3.0,174,3.1,175,3.02,176,3.6,177,3.87,178,3.43,179,3.31,180,4.37,181,4.49,183,3.92,184,5.23,185,4.7,186,5.16,188,2.7,189,2.45,191,3.29,192,2.77,193,2.28,194,2.85,197,2.48,198,2.17,199,2.32,201,1.7,202,2.07,203,2.23,204,2.86,207,2.56,208,2.7,209,3.27,210,3.68,212,2.37,214,2.75,215,3.73,216,3.71,217,3.4,220,2.44,221,2.17,224,2.92,225,2.33,226,2.93,228,2.38,229,2.17,230,2.03,232,2.61,237,2.15,239,2.27,242,2.36,244,2.32,245,2.99,249,2.97,251,3.28,253,4.02,256,3.26,257,2.88,258,4.33,262,3.91,263,3.77,264,4.67,265,4.13,267,3.2,269,3.35,270,3.33,272,3.55,273,3.95,274,4.21,277,4.2,279,4.97,280,5.33,281,5.21,283,4.92,284,5.26,285,5.77,286,5.05,287,3.91,288,3.93,290,4.02,291,4.52,294,4.57,296,5.72,298,4.49,299,4.49,301,5.95,302,6.0,304,4.88,308,4.9,310,5.57,312,5.22,313,5.17,314,5.46,315,5.51,316,5.93,317,5.08,319,3.67,320,3.89,321,4.54,322,5.34,323,5.56,324,5.06,325,5.1,326,5.52,327,8.06,328,7.68,329,5.17,330,5.12,331,5.72,332,6.08,333,6.6];
const aDots2018 = [120,0,121,0,122,0,168,0,124,6.29,125,5.7,127,4.54,128,5.23,129,6.09,130,6.15,131,5.66,132,5.19,133,4.65,135,5.37,136,5.82,137,4.57,140,5.95,141,5.99,142,5.51,143,5.39,145,5.9,146,6.24,147,5.59,148,4.78,149,4.49,150,5.54,151,5.68,152,5.51,153,5.15,154,5.52,155,5.13,156,4.92,157,6.19,161,5.7,162,5.55,166,3.35,169,5.22,171,6.15,172,6.69,173,6.1,174,5.99,175,6.32,177,4.65,180,3.5,181,3.28,182,3.44,183,5.19,184,5.03,185,3.85,186,4.38,189,5.23,190,5.21,192,3.17,193,4.26,196,3.17,197,3.17,198,3.56,199,4.41,200,5.27,202,4.56,204,4.27,205,2.28,206,3.91,207,4.7,208,2.59,210,4.62,214,3.42,215,3.76,216,1.96,217,1.67,218,3.37,220,3.73,221,3.79,222,2.75,224,2.08,225,4.47,226,3.89,230,3.11,231,4.92,234,2.8,236,3.68,237,3.82,238,2.73,239,3.27,241,3.89,242,3.85,245,3.29,247,4.13,248,3.95,250,3.08,252,3.73,256,3.4,257,4.51,260,4.47,261,4.39,262,5.47,264,2.9,266,3.42,268,4.75,269,5.51,270,5.22,271,5.34,272,4.47,273,5.3,274,4.81,276,5.46,277,5.53,279,5.43,280,6.15,284,5.81,287,5.91,289,6.0,291,5.14,292,5.91,293,5.43,294,6.32,295,6.6,296,6.58,298,5.4,299,6.53,301,7.07,302,6.42,305,6.11,304,5.57,309,4.85,310,5.15,312,7.05,314,5.16,315,7.45,316,6.89,317,6.74,318,5.9,319,5.59,321,7.03,323,7.1,325,7.02,326,5.68,328,7.2,329,7.7,331,8.27,332,6.78,333,6.91,334,7.2,335,7.83,336,7.38,337,8.98,340,6.39,341,7.25,342,7.9,343,8.19,345,6.15,347,5.69,348,5.68,349,6.78,351,6.71,352,7.02,353,8.94,354,8.52,356,6.49,357,7.16,360,7.63,361,6.33,362,6.73,363,7.49];

const bDots2019 = [1,1.216,3,.88,6,.793,7,.637,8,.827,9,.986,10,.981,11,.855,12,.739,13,.543,14,.705,15,1.157,17,1.123,18,.934,19,.911,20,.922,21,.846,22,.785,24,.537,25,.433,26,.439,28,.614,29,.975,30,.946,31,1.098,33,.956,34,.939,37,.617,38,.519,39,.582,40,.703,41,.986,42,1.083,43,1.123,44,1.025,45,.557,46,.576,47,.608,48,.762,49,.804,50,.676,51,.591,52,.558,53,.558,54,.744,55,.718,56,.6,57,.507,58,.62,59,.7,60,.897,61,.633,62,.562,63,.784,64,.765,66,.746,67,.733,68,.834,69,.818,70,.774,71,.774,72,.662,73,.667,74,.725,76,.667,77,.748,78,.784,79,.627,80,.63,81,.638,83,.777,84,.607,86,.94,87,.808,88,.853,89,.758,90,.751,91,.829,92,.862,93,.725,95,.76,97,.692,98,.664,99,.604,100,.741,101,.765,102,.782,103,.764,104,.511,105,.669,106,.619,107,.744,108,.775,109,.731,110,.627,113,.705,114,.849,115,.695,116,.684,117,.734,118,.751,119,.635,120,.507,121,.593,123,.722,124,.722,125,.63,126,.63,127,.622,128,.602,129,.62,130,.672,131,.591,132,.758,133,.71,134,.686,136,.584,139,.816,140,.805,141,.708,142,.583,143,.579,144,.643,145,.63,146,.691,147,.748,149,.72,150,.645,152,.64,156,.804,159,.804,160,.8,161,.63,162,.65,164,.653,166,.566,167,.514,168,.54,169,.653,170,.698,171,.782,172,.521,173,.464,174,.555,175,.653,176,.648,177,.524,180,.596,181,.558,183,.4,184,.408,189,.294,191,.287,193,.292,195,.521,198,.558,200,.419,202,.532,203,.517,206,.189,207,.524,212,.326,215,.486,219,.311,222,.256,223,.266,228,.297,232,.318,233,.424,235,.411,236,.282,237,.266,239,.408,241,.529,242,.481,243,.465,246,.338,247,.294,248,.294,249,.346,250,.304,251,.311,254,.413,255,.308,257,.406,259,.333,261,.311,263,.562,265,.44,266,.416,267,.285,269,.295,271,.263,272,.31,273,.323,275,.375,278,.808,280,.56,281,.63,282,.733,283,.746,284,.676,285,.573,286,.573,288,.731,289,.645,291,.555,292,.583,293,.653,294,.765,295,.467,296,.511,297,.517,298,.44,299,.622,301,.445,302,.617,303,.617,305,.635,306,.576,307,.478,308,.535,309,.7,310,.891,311,.529,312,.486,313,.481,314,.552,315,.713,316,.836,318,.875,319,.987,320,.658,321,.658,322,.854,323,.961,324,.98,325,1.11,326,.839,327,.8,330,.894,332,.839,333,.731,334,.942,335,.744,336,.88,337,.769,338,.782,339,.715,340,.734,341,1.014,342,.942,343,.891,344,.88,345,.597,346,.473,348,.485,349,.488,350,.498,353,1.04,354,1.061,355,.803,357,.955,359,.502,360,.495,361,.751,362,1.037,363,.806,364,.72];
const bDots2020 = [0,.535,2,.558,3,.681,4,.569,6,.787,7,.592,8,.461,9,.602,12,.937,13,1.131,14,.944,15,.699,16,.625,18,.507,19,.648,20,.787,21,.602,22,.51,23,.713,24,1.117,25,.839,26,.789,27,.586,28,.622,29,.531,30,.789,31,.812,32,.555,33,.725,36,.655,37,.452,38,.522,39,.717,40,.935,41,1.119,42,.774,43,.622,44,.641,46,.88,47,.803,48,.705,49,1.041,50,.695,51,.631,52,.54,53,.607,54,.549,55,.583,57,.831,58,.792,59,.812,61,.808,62,.781,63,.588,64,.456,65,.426,68,.617,69,.692,70,.442,72,.584,73,.459,74,.483,75,.695,76,.793,78,.569,79,.625,80,.516,82,.831,83,.845,85,.535,86,.517,87,.478,94,.599,95,.596,96,.512,97,.454,98,.49,99,.615,100,.765,101,.604,102,.449,104,.56,106,.488,107,.576,108,.437,109,.397,113,.455,114,.584,115,.529,116,.558,118,.507,119,.462,120,.62,121,.61,122,.511,123,.501,124,.496,125,.574,127,.522,128,.548,129,.513,130,.498,131,.672,132,.602,133,.555,134,.563,137,.753,138,.672,139,.477,140,.43,142,.545,143,.576,145,.476,146,.517,148,.519,149,.42,150,.47,152,.475,153,.588,154,.576,155,.44,156,.377,157,.444,159,.588,160,.566,163,.465,166,.485,169,.421,171,.313,172,.276,173,.313,174,.373,175,.373,177,.366,178,.344,179,.395,180,.511,182,.439,184,.584,187,.404,190,.424,192,.287,193,.249,194,.302,195,.475,198,.269,200,.33,201,.24,202,.287,203,.249,205,.493,206,.599,208,.38,209,.251,210,.478,212,.506,213,.575,216,.437,218,.282,220,.47,222,.359,223,.49,226,.354,228,.275,229,.264,230,.258,231,.413,233,.261,235,.311,237,.222,238,.261,239,.264,241,.311,244,.28,245,.325,247,.476,248,.473,249,.494,251,.406,252,.433,253,.529,255,.442,256,.359,257,.406,260,.571,254,.7,265,.315,266,.331,267,.318,270,.446,273,.481,275,.614,276,.464,277,.413,278,.452,279,.491,280,.569,281,.594,282,.627,283,.543,284,.625,285,.604,286,.444,288,.385,289,.402,291,.591,293,.605,294,.555,295,.622,296,.635,297,.576,298,.617,299,.571,300,.782,301,.836,302,.834,303,.645,304,.648,305,.674,307,.705,308,.698,309,.7,310,.891,311,.718,313,.762,315,.596,316,.576,317,.62,318,.71,319,.684,320,.689,322,.515,323,.676,324,.63,325,.519,326,.684,327,1.195,328,1.178,329,.764,330,.702,331,.563,333,.87];
const bDots2018 = [120,0,121,0,122,0,168,0,125,.698,126,.679,127,.633,128,.591,129,.692,130,.709,131,.643,133,.535,134,.507,135,.722,136,.76,140,.852,141,.756,142,.836,143,.908,144,.728,145,.806,146,.798,148,.671,149,.65,150,.82,151,.756,153,.805,155,.653,157,.802,158,.751,160,.544,161,.509,170,.619,171,.679,173,.71,174,.679,175,.589,176,.457,179,.465,181,.426,182,.398,183,.419,186,.645,187,.476,188,.599,189,.582,190,.637,191,.441,192,.388,194,.531,196,.323,197,.32,198,.308,200,.615,203,.269,205,.349,207,.28,208,.28,210,.392,211,.268,212,.24,217,.254,219,.297,220,.356,221,.617,222,.523,223,.496,229,.426,230,.437,232,.333,233,.457,237,.297,241,.404,242,.344,243,.488,244,.284,245,.287,250,.315,251,.562,252,.593,253,.538,255,.437,257,.54,258,.555,259,.488,260,.521,262,.5,264,.367,265,.517,267,.423,268,.609,269,.767,270,.651,271,.583,272,.542,274,.692,275,.741,276,.782,277,.723,278,.728,280,.829,281,.835,282,.592,283,.429,284,.689,286,.602,287,1.003,288,.865,290,.749,292,.884,293,.718,295,1.006,296,.808,297,.868,299,.765,300,.8,301,.808,302,.666,304,.64,305,.756,306,.9,309,.64,310,.837,311,1.03,312,1.191,313,1.089,315,.82,316,.816,317,.887,319,.784,320,.748,321,1.06,322,1.04,323,.994,324,1.056,326,.674,327,.689,329,1.102,332,1.166,333,1.14,334,.999,336,1.045,337,1.187,340,.765,341,.808,343,.728,345,1.079,347,.638,349,.748,350,.6,351,.604,355,1.187,356,1.182,357,.901,358,.851,359,.86,360,.909,362,.884,363,.92,364,.937];

const cDots2019 = [0,1.0,1,1.48,2,1.71,3,1.15,4,1.58,5,.93,6,1.24,8,1.15,9,1.62,10,1.9,11,1.85,12,1.14,13,1.11,14,.94,15,1.81,16,1.72,17,1.84,18,.72,19,.87,20,1.4,22,1.19,23,1.34,24,.7,25,.46,26,.67,27,.67,28,.69,29,1.49,30,1.75,31,1.81,32,1.76,33,2.08,34,1.28,35,.72,36,.84,37,1.2,38,.64,39,1.19,40,.97,41,1.97,42,2.11,43,2.04,44,2.36,45,.9,46,.85,48,1.37,49,1.69,50,1.66,51,.64,52,.68,54,1.26,55,1.1,56,.88,57,.48,58,.97,59,1.28,60,2.45,61,1.29,62,.8,63,.93,64,1.27,65,.7,66,1.2,67,.79,69,1.23,70,1.23,71,1.69,72,.91,73,.76,75,1.18,76,.78,77,.94,80,1.07,81,1.21,82,.47,83,.53,85,1.25,86,1.31,87,1.44,88,.65,90,1.04,91,1.24,92,1.66,95,.91,96,1.18,97,1.34,98,1.24,99,.62,100,.91,102,1.2,103,1.46,104,.44,105,.7,106,.87,107,1.14,108,1.49,109,.91,110,.91,111,1.02,112,1.11,113,.98,114,1.01,115,.79,117,.89,118,1.18,119,1.64,120,.51,121,.24,122,.63,124,.85,126,.48,127,.4,128,.35,129,.48,131,.56,132,.65,133,.72,134,.91,135,1.03,136,.7,137,.61,138,.59,139,.98,140,1.23,141,1.07,142,.68,144,.54,145,.67,146,.78,148,.86,149,.94,150,1.02,151,.9,152,.63,153,.59,154,.63,155,.74,156,.89,157,.58,158,.55,160,.94,161,.82,162,1.0,163,.26,165,.32,168,.19,169,.37,170,.61,171,.79,172,.3,173,.19,175,.46,176,.65,179,.24,182,.5,183,.2,187,.18,188,.15,193,.08,194,.05,198,.6,199,.52,201,.23,203,.27,204,.31,207,.51,208,.19,210,.07,212,.01,213,2.0,214,.53,215,.24,216,.87,217,.31,219,.07,220,.17,223,.02,226,.09,229,.11,231,.35,233,.16,234,.33,235,.49,236,.15,237,.37,238,.08,241,.71,242,.73,244,.21,247,.08,248,.03,249,.33,250,.29,251,.1,253,.4,255,.07,256,.22,257,.88,259,.24,260,.29,261,.25,263,.9,264,.2,268,.18,269,.28,271,.18,272,.16,273,.25,274,.43,275,.27,277,.44,278,.69,279,.73,280,.38,283,.74,284,.84,285,.63,288,1.19,289,.87,290,.69,291,.56,292,.48,294,1.0,295,1.38,296,.46,297,.71,298,.33,301,.61,302,.7,303,.89,305,.82,306,.81,307,.52,308,.65,309,.63,310,.99,312,.5,313,.49,314,.43,315,.42,316,1.27,317,.93,319,1.27,320,.73,321,.52,322,1.16,324,1.79,325,1.54,327,1.05,328,.84,329,1.61,330,1.05,332,1.67,334,.88,336,1.6,337,.78,338,1.49,339,1.1,340,1.32,341,1.85,342,2.1,344,1.56,345,.96,346,.36,348,.51,349,.37,350,.41,351,.66,352,1.13,353,1.23,354,1.31,355,1.15,356,1.71,357,1.39,358,1.23,359,.71,360,.58,361,1.26,362,1.25,363,1.41,364,.9,365,.62];
const cDots2020 = [0,.62,1,.06,2,.5,3,.83,4,.6,5,1.03,6,1.08,7,.67,8,.4,9,.73,10,1.2,11,1.02,12,1.58,13,1.64,14,1.6,16,.94,17,.99,18,.71,19,.77,20,1.59,21,1.26,22,.72,23,1.29,24,1.51,26,.89,27,.75,29,1.03,30,1.09,31,1.75,33,1.14,34,.73,35,1.44,38,.94,39,1.58,40,1.75,41,2.05,43,1.0,44,1.36,45,1.39,47,1.24,48,1.18,49,1.73,50,1.75,51,1.49,54,.59,56,1.25,58,.51,59,.93,60,1.35,61,1.67,62,1.84,63,1.82,65,.55,66,.95,68,1.06,69,1.15,70,.63,71,.73,73,.57,74,1.08,75,.72,76,1.28,77,.75,78,.81,80,.65,82,1.29,84,1.32,85,.93,86,.5,87,.51,89,.78,90,.9,91,.64,92,.7,94,.95,95,.93,96,.71,97,.66,98,.7,100,1.38,101,1.4,102,.3,103,.72,108,.54,109,.5,111,.75,112,.62,113,1.74,114,.73,115,.7,117,.51,118,.28,119,.48,120,.83,121,.92,123,.4,125,.64,126,.86,127,.61,128,.82,130,.43,132,1.13,133,1.18,134,.75,137,.88,138,1.16,139,.4,140,.32,143,.64,144,.73,150,.35,151,.41,152,.42,154,.92,156,.11,157,.25,159,.94,161,.53,162,.47,163,.65,165,.18,166,.18,167,.24,168,.46,169,.45,170,.25,171,.02,173,.07,174,.23,177,.16,180,.62,181,.48,182,.17,183,.22,186,.5,188,.08,189,.18,191,.36,195,.44,196,.44,197,.35,200,.25,202,.16,207,.48,208,.56,209,.14,212,.74,213,.98,214,.25,215,.19,218,.11,219,.36,221,.57,222,.59,224,.44,226,.62,229,.11,230,.03,231,.37,232,.1,233,.29,235,.1,240,.09,241,.28,242,.2,243,.37,245,.43,246,.3,248,.43,249,.63,250,.76,252,.35,253,.51,254,.69,255,.75,258,.44,259,.66,260,.88,261,.59,270,.57,271,.58,272,.65,274,.27,275,.67,276,.73,277,.37,278,.38,280,.43,281,.46,282,.99,284,.49,285,.69,288,.43,289,.5,290,.47,291,.74,293,1.03,295,.89,296,.66,300,1.13,301,1.28,302,1.43,303,.72,304,.65,305,.62,307,.81,308,1.49,309,1.7,310,1.14,311,.9,312,.77,313,.81,314,1.23,315,.8,317,1.05,318,1.01,319,1.65,320,1.47,321,.91,322,.83,323,.91,325,.79,326,.8,327,1.52,328,1.76,330,.82,331,.48,333,1.41,334,1.68];
const cDots2018 = [120,.73,122,.58,123,1.07,125,.71,126,.91,128,.63,129,.78,131,.57,134,.4,135,.57,137,.8,139,.73,142,.87,144,.46,145,.79,147,.88,148,.98,150,.44,151,.38,152,.39,153,.56,154,.54,155,.34,156,.4,157,.45,158,.81,159,.72,160,.28,161,.14,162,.1,166,.18,168,.46,169,.45,170,.58,172,.78,173,.51,174,.32,176,.04,178,.47,179,.21,181,.47,182,.04,183,.16,184,.36,185,.23,187,.26,189,.45,190,.67,191,.1,193,.19,194,.65,196,.11,198,.12,199,.4,200,.36,202,0,203,.04,205,.27,207,.03,210,.07,214,.08,215,.13,216,.14,217,.04,221,.76,222,.63,223,.29,227,.08,228,.28,230,.13,232,.34,234,.37,238,.02,243,.47,244,.03,245,.18,246,.14,248,.32,249,.07,252,.38,255,.2,257,.56,259,.6,260,.79,262,.33,264,.22,265,.43,266,.59,268,.45,269,.64,270,.77,273,.89,274,.81,276,1.45,277,.79,278,.86,279,1.07,280,1.22,281,1.11,282,.71,283,.39,284,.45,286,1.0,287,1.56,288,.68,290,1.34,291,1.4,292,1.6,293,.63,294,.82,295,1.18,298,1.16,299,.83,300,1.13,303,.51,305,1.15,306,1.31,307,1.29,308,1.83,309,.82,310,.9,312,1.69,313,1.82,315,1.15,316,1.15,317,1.02,318,1.43,319,1.71,320,1.4,321,1.67,322,1.49,323,1.73,324,2.01,326,.98,327,.57,328,.65,332,2.14,334,2.07,336,1.74,338,2.24,339,2.06,340,1.91,341,.86,342,1.76,343,1.41,345,1.84,347,1.41,349,.69,351,1.12,353,1.64,356,1.55,357,1.0,358,1.37,360,1.22,361,.85,363,1.15,364,1.15,365,1.0];

const SVGNS = 'http://www.w3.org/2000/svg';
const plotLeft = 188, plotRight = 2897, yearDays = 366;
const frameLeft = 187;
const TICK_COLOR = '#262626', GRID_COLOR = '#dcdcdc';
const phaseShades = [0.31, 0.15, 0.10, 0.08];
const yearColors = {2018:'#00ff00', 2019:'#000000', 2020:'#ff0000'};

function xAxis(day){ return plotLeft + (plotRight - plotLeft) * day / yearDays; }
function makeYAxis(top, bottom, yMax){ return function(v){ return bottom - (bottom - top) * v / yMax; }; }

function svgEl(parent, tag, attrs){
  const el = document.createElementNS(SVGNS, tag);
  for (const k in attrs) el.setAttribute(k, attrs[k]);
  parent.appendChild(el);
  return el;
}

function drawPanel(id, top, bottom, yMax, tickValues, tickLabels, phaseDays, lines, dots){
  const yAxis = makeYAxis(top, bottom, yMax);
  const base = document.getElementById(id + '-base');
  const data = document.getElementById(id + '-data');
  const dotLayer = document.getElementById(id + '-dots');
  const shade = document.getElementById(id + '-shade');

  // grid
  tickValues.forEach(function(v){
    if (v === 0 || v === yMax) return;
    const g = svgEl(base, 'line', {x1:plotLeft, x2:plotRight, y1:yAxis(v), y2:yAxis(v), stroke:GRID_COLOR, 'stroke-width':7});
    
    
  });
  monthStartDays.forEach(function(d, i){
    if (i === 0 || i === monthStartDays.length - 1) return;
    const g = svgEl(base, 'line', {x1:xAxis(d), x2:xAxis(d), y1:top, y2:bottom, stroke:GRID_COLOR, 'stroke-width':6.5});
    
    
  });

  // frame
  const frame = svgEl(base, 'rect', {x:frameLeft, y:top, width:plotRight - frameLeft, height:bottom - top, fill:'none', stroke:TICK_COLOR, 'stroke-width':6.5});
  
  

  // y ticks and labels
  tickValues.forEach(function(v, i){
    const y = yAxis(v);
    if (v !== 0 && v !== yMax) {
      const t1 = svgEl(base, 'line', {x1:frameLeft, x2:frameLeft + 30, y1:y, y2:y, stroke:TICK_COLOR, 'stroke-width':6.5});
      
      
      const t2 = svgEl(base, 'line', {x1:plotRight - 30, x2:plotRight, y1:y, y2:y, stroke:TICK_COLOR, 'stroke-width':6.5});
      
      
    }
    const lab = svgEl(base, 'text', {x:167, y:y + 15, 'text-anchor':'end', 'font-size':40.5, fill:TICK_COLOR});
    lab.textContent = tickLabels[i];
    
    
  });

  // x ticks and labels
  monthStartDays.forEach(function(d, i){
    const x = xAxis(d);
    if (i !== 0 && i !== monthStartDays.length - 1) {
      const t1 = svgEl(base, 'line', {x1:x, x2:x, y1:top, y2:top + 30.5, stroke:TICK_COLOR, 'stroke-width':6});
      
      
      const t2 = svgEl(base, 'line', {x1:x, x2:x, y1:bottom - 30.5, y2:bottom, stroke:TICK_COLOR, 'stroke-width':6});
      
      
    }
    const lab = svgEl(base, 'text', {x:x, y:bottom + 55, 'text-anchor':'middle', 'font-size':40.5, fill:TICK_COLOR});
    lab.textContent = monthLabels[i];
    
    
  });

  // series lines
  [2018, 2019, 2020].forEach(function(year){
    const vals = lines[year];
    const pts = [];
    for (let i = 0; i + 1 < vals.length; i += 2) {
      pts.push(xAxis(vals[i]).toFixed(1) + ',' + yAxis(vals[i + 1]).toFixed(1));
    }
    const line = svgEl(data, 'polyline', {points:pts.join(' '), fill:'none', stroke:yearColors[year], 'stroke-width':9, 'stroke-linejoin':'round'});
    
    
  });

  // daily points
  [2018, 2019, 2020].forEach(function(year){
    const vals = dots[year];
    for (let i = 0; i + 1 < vals.length; i += 2) {
      const dot = svgEl(dotLayer, 'circle', {cx:xAxis(vals[i]).toFixed(1), cy:yAxis(vals[i + 1]).toFixed(1), r:3, fill:yearColors[year]});
      
      
    }
  });

  // lockdown phases (translucent, over the data)
  for (let p = 0; p + 1 < phaseDays.length; p++) {
    const r = svgEl(shade, 'rect', {x:xAxis(phaseDays[p]), y:top, width:xAxis(phaseDays[p + 1]) - xAxis(phaseDays[p]), height:bottom - top, fill:'#000', 'fill-opacity':phaseShades[p]});
    
    
  }
}

drawPanel('a', 92.3, 703.3, 9.106, aTickValues, aTickLabels, abPhaseDays,
  {2018:aLine2018, 2019:aLine2019, 2020:aLine2020}, {2018:aDots2018, 2019:aDots2019, 2020:aDots2020});
drawPanel('b', 998.4, 1609, 1.3, bTickValues, bTickLabels, abPhaseDays,
  {2018:bLine2018, 2019:bLine2019, 2020:bLine2020}, {2018:bDots2018, 2019:bDots2019, 2020:bDots2020});
drawPanel('c', 1904.3, 2515, 2.5, cTickValues, cTickLabels, cPhaseDays,
  {2018:cLine2018, 2019:cLine2019, 2020:cLine2020}, {2018:cDots2018, 2019:cDots2019, 2020:cDots2020});
</script>
</body>
</html>
